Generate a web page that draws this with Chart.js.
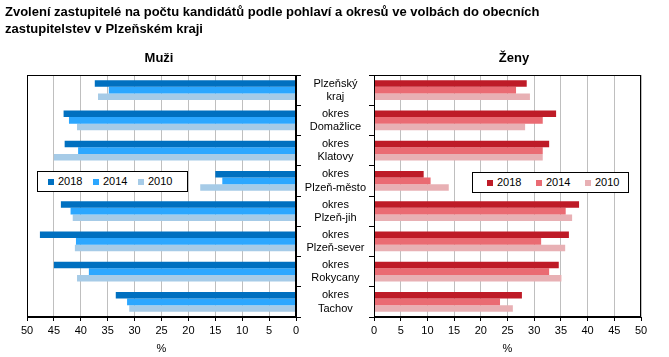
<!DOCTYPE html>
<html><head><meta charset="utf-8">
<script src="https://cdn.jsdelivr.net/npm/chart.js@4/dist/chart.umd.min.js"></script>
<style>
html,body{margin:0;padding:0;background:#fff;}
#wrap{position:relative;width:669px;height:357px;overflow:hidden;font-family:'Liberation Sans',Arial,sans-serif;color:#000;}
canvas{position:absolute;left:0;top:0;}
#title{position:absolute;left:5px;top:3px;font-weight:bold;font-size:13px;line-height:17px;white-space:nowrap;}
.ptitle{position:absolute;top:50px;font-weight:bold;font-size:13px;line-height:16px;transform:translateX(-50%);white-space:nowrap;}
.legend{position:absolute;border:1px solid #000;background:#fff;box-sizing:border-box;height:21px;z-index:2;}
.sq{position:absolute;width:6px;height:6px;}
.lt{position:absolute;font-size:11px;line-height:13px;white-space:nowrap;}
</style></head>
<body><div id="wrap">
<canvas id="cm" width="669" height="357"></canvas>
<canvas id="cw" width="669" height="357"></canvas>
<div id="title">Zvolení zastupitelé na počtu kandidátů podle pohlaví a okresů ve volbách do obecních<br>zastupitelstev v Plzeňském kraji</div>
<div class="ptitle" style="left:159px">Muži</div>
<div class="ptitle" style="left:514px">Ženy</div>
<div class="legend" id="lm" style="left:37px;top:171px;width:151px"></div>
<div class="legend" id="lw" style="left:472px;top:172px;width:157px"></div>
</div>
<script>
const categories = [["Plzeňský","kraj"],["okres","Domažlice"],["okres","Klatovy"],["okres","Plzeň-město"],["okres","Plzeň-jih"],["okres","Plzeň-sever"],["okres","Rokycany"],["okres","Tachov"]];
const years = ["2018","2014","2010"];
const men2018 = [37.4,43.2,43.0,15.0,43.7,47.6,45.0,33.5];
const men2014 = [34.8,42.2,40.5,13.7,41.9,40.9,38.5,31.4];
const men2010 = [36.8,40.7,45.0,17.8,41.5,41.1,40.7,31.0];
const women2018 = [28.6,34.1,32.8,9.3,38.4,36.5,34.6,27.7];
const women2014 = [26.6,31.6,31.6,10.6,35.9,31.3,32.8,23.6];
const women2010 = [29.2,28.3,31.6,14.0,37.1,35.8,35.1,26.0];
const axisMin = 0, axisMax = 50, axisStep = 5;
const axisTitle = "%";

const menColors = ["#0070C0","#2CA7FF","#A6CBE7"];
const womenColors = ["#BE1B27","#EA6B73","#E8B0B4"];
const font = {family:"'Liberation Sans', Arial, sans-serif", size:11};

const frame = {id:'frame', afterDraw(c){const a=c.chartArea,x=c.ctx;x.save();x.strokeStyle='#000';x.lineWidth=1;x.strokeRect(Math.round(a.left)+0.5,Math.round(a.top)+0.5,Math.round(a.right-a.left)-1,Math.round(a.bottom-a.top)-1);x.restore();}};

function mk(id, series, colors, left){
  const xScale = {min:axisMin,max:axisMax,reverse:left,
    ticks:{stepSize:axisStep,font,color:'#000',padding:3,maxRotation:0,autoSkip:false},
    grid:{color:'#BFBFBF',tickColor:'#000',tickLength:4},
    border:{color:'#000'},
    title:{display:true,text:axisTitle,font,color:'#000',padding:{top:0,bottom:1}},
    afterFit(s){s.height=40;}};
  const yScale = left ? {position:'right',ticks:{display:false},
      grid:{offset:true,drawOnChartArea:false,color:'#000',tickLength:5},border:{color:'#000'},
      afterFit(s){s.width=5;}}
    : {position:'left',ticks:{font,color:'#000',crossAlign:'center',padding:3,autoSkip:false},
      grid:{offset:true,drawOnChartArea:false,color:'#000',tickLength:5},border:{color:'#000'},
      afterFit(s){s.width=80;}};
  return new Chart(document.getElementById(id),{
    type:'bar',
    data:{labels:categories,datasets:series.map((d,i)=>({label:years[i],data:d,backgroundColor:colors[i],borderWidth:0}))},
    options:{indexAxis:'y',responsive:false,animation:false,devicePixelRatio:1,
      layout:{padding: left?{top:75,left:27,right:669-296-5,bottom:0}:{top:75,left:374-80,right:28,bottom:0}},
      plugins:{legend:{display:false},tooltip:{enabled:false}},
      datasets:{bar:{barPercentage:1,categoryPercentage:0.66}},
      scales:{x:xScale,y:yScale}},
    plugins:[frame]});
}
mk('cm',[men2018,men2014,men2010],menColors,true);
mk('cw',[women2018,women2014,women2010],womenColors,false);

function legend(id, colors, sqX, txX){
  const el=document.getElementById(id);
  years.forEach((y,i)=>{
    const s=document.createElement('div');s.className='sq';s.style.background=colors[i];
    s.style.left=sqX[i]+'px';s.style.top='7px';el.appendChild(s);
    const t=document.createElement('div');t.className='lt';t.textContent=y;
    t.style.left=txX[i]+'px';t.style.top='3px';el.appendChild(t);
  });
}
legend('lm',menColors,[10,55,100],[20,65,110]);
legend('lw',womenColors,[14,63,112],[24,73,122]);
</script>
</body></html>
